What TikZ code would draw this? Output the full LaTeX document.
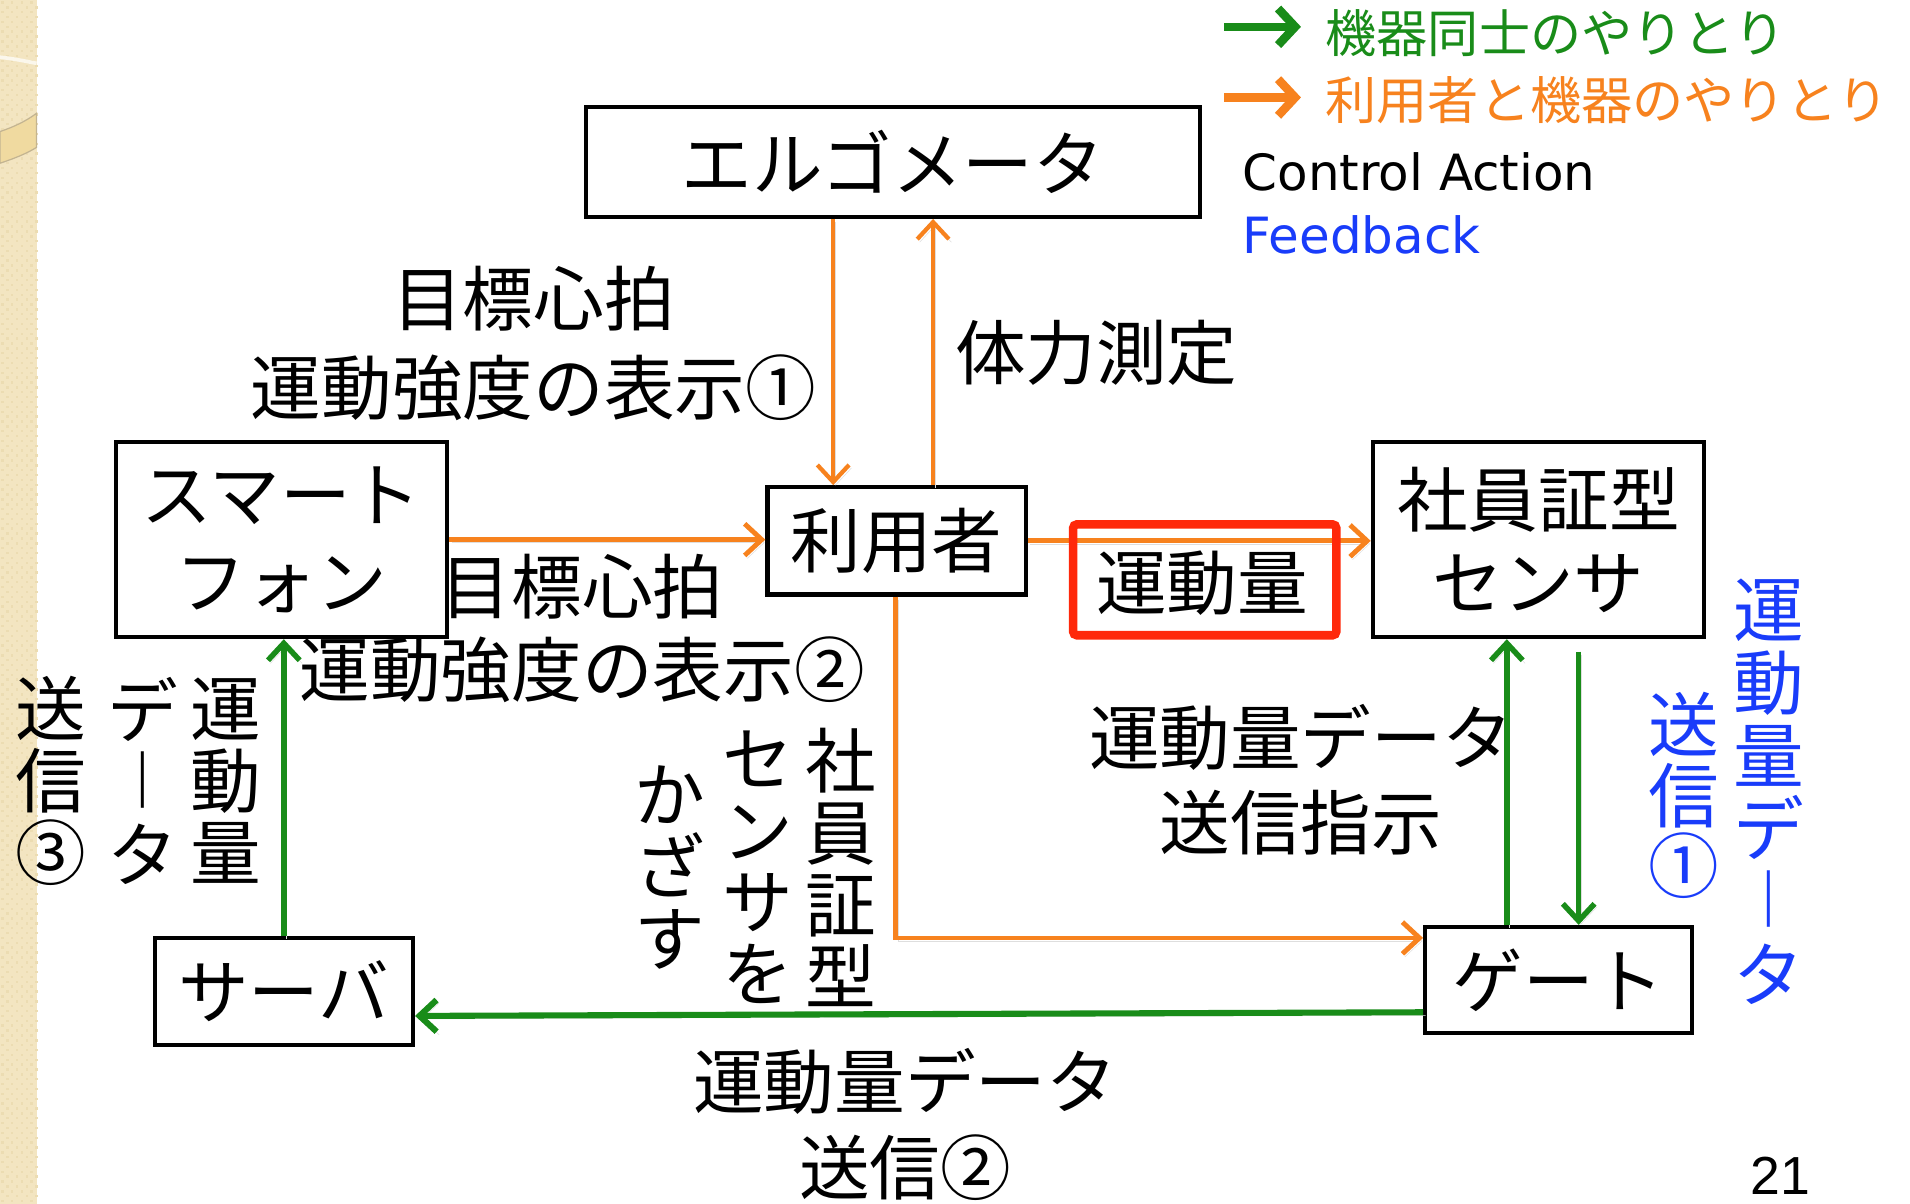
\documentclass[tikz,border=0pt]{standalone}
\usepackage{fontspec}
\setmainfont{Noto Sans CJK JP}
\newfontfamily\latinfont{DejaVu Sans}
\newfontfamily\arialfont{Liberation Sans}
\usetikzlibrary{arrows.meta}
\definecolor{gr}{RGB}{25,140,25}
\definecolor{og}{RGB}{247,130,30}
\definecolor{rd}{RGB}{255,40,10}
\definecolor{bl}{RGB}{25,60,250}
\definecolor{beige}{RGB}{243,229,193}
\definecolor{beigedot}{RGB}{236,220,178}
\definecolor{band}{RGB}{240,218,160}
\definecolor{bandedge}{RGB}{195,180,145}
\newcommand\vbar{\raisebox{0.11em}{\scalebox{1}[0.8]{｜}}}
\tikzset{
  box/.style={draw=black, line width=3.5pt, inner sep=0pt, align=center, font={\fontsize{58}{70}\selectfont}},
  redbox/.style={draw=rd, line width=7pt, rounded corners=3pt, inner sep=0pt, font={\fontsize{58}{70}\selectfont}},
  lbl/.style={inner sep=0pt, align=center, font={\fontsize{58}{70}\selectfont}},
  vcol/.style={inner sep=0pt, align=center, font={\fontsize{58}{59}\selectfont}},
  chev/.tip={Straight Barb[length=14pt,width=26pt]},
  shade/.style={preaction={draw=black!13, transform canvas={shift={(2pt,-2.5pt)}}}},
  oarr/.style={draw=og, line width=3.5pt, -{chev}, shade},
  garr/.style={draw=gr, line width=4.5pt, -{chev}, shade},
  legarr/.style={line width=7pt, -{Straight Barb[length=14pt,width=30pt]}, shade},
}
\begin{document}
\begin{tikzpicture}[x=1pt,y=-1pt]
\useasboundingbox (0,0) rectangle (1568,988);
\fill[white] (0,0) rectangle (1568,988);
% decorative left strip
\fill[beige] (0,0) rectangle (30,988);
\foreach \yy in {0,8,...,984}{
  \foreach \xx in {0,8,16,24}{
    \fill[beigedot] (\xx+1,\yy+1) rectangle (\xx+3,\yy+3);
    \fill[beigedot] (\xx+5,\yy+5) rectangle (\xx+7,\yy+7);
  }
}
\draw[white!70!beige, line width=3pt] (0,47) .. controls (10,48) and (20,50) .. (30,52);
\filldraw[fill=band, draw=bandedge, line width=1pt] (0,108) .. controls (12,104) and (22,99) .. (30,93) -- (30,121) .. controls (22,126) and (12,130) .. (0,134) -- cycle;

% boxes
\node[box, minimum width=504pt, minimum height=90pt] (ergo) at (733,133) {エルゴメータ};
\node[box, minimum width=212pt, minimum height=88pt] (user) at (736,444) {利用者};
\node[box, minimum width=272pt, minimum height=160pt, font={\fontsize{58}{71}\selectfont}] (phone) at (231,443) {スマート\\フォン};
\node[box, minimum width=272pt, minimum height=160pt, font={\fontsize{58}{68}\selectfont}] (sensor) at (1263,443) {社員証型\\センサ};
\node[box, minimum width=212pt, minimum height=88pt] (server) at (233,814) {サーバ};
\node[box, minimum width=219pt, minimum height=87pt] (gate) at (1279.5,804.5) {ゲート};

% helper coordinates for connector positions
\coordinate (xa) at (684,0);
\coordinate (xb) at (766,0);
\coordinate (xc) at (735,0);
\coordinate (xd) at (233,0);
\coordinate (xe) at (1237,0);
\coordinate (xf) at (1296,0);
\coordinate (gfree) at (1296,535);

% orange connectors
\draw[oarr] (xa |- ergo.south) -- (xa |- user.north);
\draw[oarr] (xb |- user.north) -- (xb |- ergo.south);
\draw[oarr, line width=4pt] (phone.east) -- (phone.east -| user.west);
\draw[oarr, line width=4pt] (user.east) -- (user.east -| sensor.west);
\draw[oarr, line width=4pt] (xc |- user.south) |- ([yshift=34.5pt]gate.west);

% green connectors
\draw[garr] (xd |- server.north) -- (xd |- phone.south);
\draw[garr, line width=5pt] ([yshift=-26.5pt]gate.west) -- ([yshift=-20pt]server.east);
\draw[garr] (xe |- gate.north) -- (xe |- sensor.south);
\draw[garr] (gfree) -- (xf |- gate.north);

% red highlighted box (drawn over the arrow)
\node[redbox, minimum width=216pt, minimum height=91pt] (amount) at (989,476) {};
\node[lbl] (amounttext) at (987,479) {運動量};

% labels
\node[lbl, font={\fontsize{58}{73}\selectfont}] (t1) at (438,282) {目標心拍\\運動強度の表示①};
\node[lbl] (t2) at (900,290) {体力測定};
\node[lbl, font={\fontsize{58}{68}\selectfont}] (t3) at (478,516) {目標心拍\\運動強度の表示②};
\node[lbl] (t4) at (1068,640) {運動量データ\\送信指示};
\node[lbl] (t5) at (743,923) {運動量データ\\送信②};

% vertical labels
\node[vcol] (v1) at (185,641) {運\\動\\量};
\node[vcol] (v2) at (117,641) {デ\\\vbar\\タ};
\node[vcol] (v3) at (42,641) {送\\信\\③};
\node[vcol] (v4) at (690,712) {社\\員\\証\\型};
\node[vcol] (v5) at (622,712) {セ\\ン\\サ\\を};
\node[vcol] (v6) at (550,712) {か\\ざ\\す};
\node[vcol, text=bl, font={\fontsize{58}{60}\selectfont}] (v7) at (1452,650) {運\\動\\量\\デ\\\vbar\\タ};
\node[vcol, text=bl, font={\fontsize{58}{58}\selectfont}] (v8) at (1382,653) {送\\信\\①};

% legend
\coordinate (lg1a) at (1005,22);
\coordinate (lg1b) at (1068,22);
\coordinate (lg2a) at (1005,80);
\coordinate (lg2b) at (1068,80);
\draw[legarr, draw=gr] (lg1a) -- (lg1b);
\draw[legarr, draw=og] (lg2a) -- (lg2b);
\node[inner sep=0pt, anchor=west, text=gr, font={\fontsize{42}{50}\selectfont}] (lt1) at (1088,27) {機器同士のやりとり};
\node[inner sep=0pt, anchor=west, text=og, font={\fontsize{42}{50}\selectfont}] (lt2) at (1088,82) {利用者と機器のやりとり};
\node[inner sep=0pt, anchor=west, font={\latinfont\fontsize{41}{50}\selectfont}] (ca) at (1020,141) {Control Action};
\node[inner sep=0pt, anchor=west, text=bl, font={\latinfont\fontsize{41}{50}\selectfont}] (fb) at (1020,193) {Feedback};

% page number
\node[inner sep=0pt, anchor=base west, font={\arialfont\fontsize{44}{50}\selectfont}] (pg) at (1437,981) {21};
\end{tikzpicture}
\end{document}
